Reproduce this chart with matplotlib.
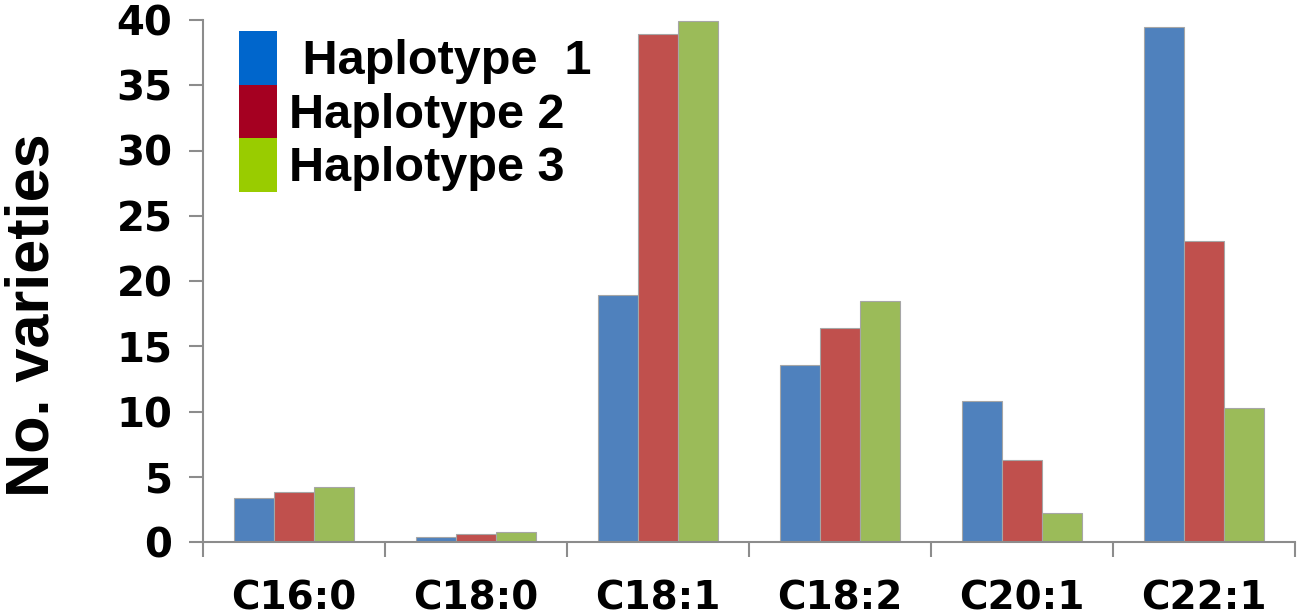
import matplotlib
matplotlib.use("Agg")
import matplotlib.pyplot as plt
from matplotlib.patches import Patch
import numpy as np

# fatty acid composition classes and counts per haplotype
acids = ['C16:0', 'C18:0', 'C18:1', 'C18:2', 'C20:1', 'C22:1']
haplotype_1 = [3.4, 0.4, 18.9, 13.6, 10.8, 39.5]
haplotype_2 = [3.8, 0.6, 38.9, 16.4, 6.3, 23.1]
haplotype_3 = [4.2, 0.8, 39.9, 18.5, 2.2, 10.3]
legend_labels = [' Haplotype  1', 'Haplotype 2', 'Haplotype 3']
y_ticks = [0, 5, 10, 15, 20, 25, 30, 35, 40]

bar_colors = ['#4F81BD', '#C0504D', '#9BBB59']
key_colors = ['#0066CC', '#A50021', '#99CC00']


def plot_haplotypes():
    fig = plt.figure(figsize=(12.98, 6.15), dpi=100)
    ax = fig.add_axes([203 / 1298, 1 - 542 / 615, 1092 / 1298, 522 / 615])

    x = np.arange(len(acids))
    width = 0.22
    for i, vals in enumerate([haplotype_1, haplotype_2, haplotype_3]):
        ax.bar(x + (i - 1) * width, vals, width, color=bar_colors[i],
               edgecolor='#A6A6A6', linewidth=0.8, zorder=2)

    ax.set_xlim(-0.5, len(acids) - 0.5)
    ax.set_ylim(0, 40)

    for side in ['top', 'right']:
        ax.spines[side].set_visible(False)
    for side in ['left', 'bottom']:
        ax.spines[side].set_color('#8C8C8C')
        ax.spines[side].set_linewidth(1.5)

    # group boundaries carry the tick marks, labels sit between them
    ax.set_xticks(np.arange(len(acids) + 1) - 0.5)
    ax.set_xticklabels([])
    ax.set_xticks(x, minor=True)
    ax.set_xticklabels(acids, minor=True, fontsize=28, fontweight='bold',
                       family='DejaVu Sans')
    ax.tick_params(axis='x', which='major', direction='out', length=11,
                   width=1.5, color='#8C8C8C')
    ax.tick_params(axis='x', which='minor', length=0, pad=27)

    ax.set_yticks(y_ticks)
    ax.set_yticklabels([str(t) for t in y_ticks], fontsize=29,
                       fontweight='bold', family='DejaVu Sans')
    ax.tick_params(axis='y', direction='out', length=10, width=1.5,
                   color='#8C8C8C', pad=12)

    fig.text(33 / 1298, 1 - 315 / 615, 'No. varieties', rotation=90,
             ha='center', va='center', fontsize=44, fontweight='bold',
             family='Liberation Sans')

    fs = 35
    fs_px = fs * 100 / 72
    handles = [Patch(facecolor=c, edgecolor='none') for c in key_colors]
    ax.legend(handles, legend_labels, loc='upper left',
              bbox_to_anchor=(239 / 1298, 1 - 31 / 615),
              bbox_transform=fig.transFigure, frameon=False,
              prop={'family': 'Liberation Sans', 'weight': 'bold', 'size': fs},
              handleheight=64 / fs_px, handlelength=38 / fs_px,
              handletextpad=12 / fs_px, labelspacing=0, borderpad=0,
              borderaxespad=0)

    fig.savefig('out.png', dpi=100)


if __name__ == '__main__':
    plot_haplotypes()
